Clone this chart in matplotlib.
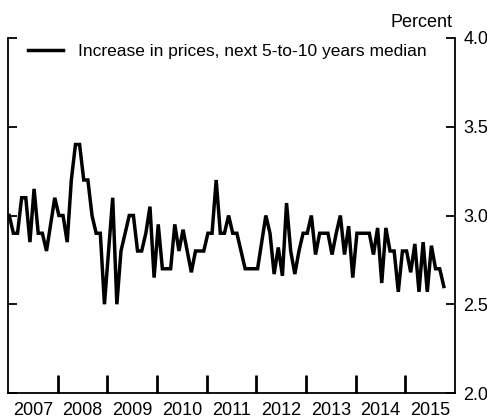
import matplotlib
matplotlib.use("Agg")
import matplotlib.pyplot as plt
import numpy as np

# monthly medians, Jan 2007 .. Oct 2015 (percent)
expect_5_10 = [
    3.0, 2.9, 2.9, 3.1, 3.1, 2.85, 3.15, 2.9, 2.9, 2.8, 2.95, 3.1,   # 2007
    3.0, 3.0, 2.85, 3.2, 3.4, 3.4, 3.2, 3.2, 3.0, 2.9, 2.9, 2.5,     # 2008
    2.8, 3.1, 2.5, 2.8, 2.9, 3.0, 3.0, 2.8, 2.8, 2.9, 3.05, 2.65,    # 2009
    2.95, 2.7, 2.7, 2.7, 2.95, 2.8, 2.92, 2.8, 2.68, 2.8, 2.8, 2.8,  # 2010
    2.9, 2.9, 3.2, 2.9, 2.9, 3.0, 2.9, 2.9, 2.8, 2.7, 2.7, 2.7,      # 2011
    2.7, 2.85, 3.0, 2.9, 2.67, 2.82, 2.66, 3.07, 2.8, 2.67, 2.8, 2.9,  # 2012
    2.9, 3.0, 2.78, 2.9, 2.9, 2.9, 2.78, 2.9, 3.0, 2.78, 2.94, 2.65,   # 2013
    2.9, 2.9, 2.9, 2.9, 2.78, 2.93, 2.62, 2.93, 2.8, 2.8, 2.57, 2.8,   # 2014
    2.8, 2.68, 2.84, 2.57, 2.85, 2.57, 2.83, 2.7, 2.7, 2.6,            # 2015
]
years = ['2007', '2008', '2009', '2010', '2011', '2012', '2013', '2014', '2015']
y_ticks = [2.0, 2.5, 3.0, 3.5, 4.0]
legend_label = 'Increase in prices, next 5-to-10 years median'

plt.rcParams['font.family'] = ['Liberation Sans', 'DejaVu Sans']

fig = plt.figure(figsize=(4.87, 4.2), dpi=100)
ax = fig.add_axes([8 / 487, 1 - 393 / 420, (455 - 8) / 487, (393 - 38) / 420])

months = np.arange(len(expect_5_10)) + 0.3
ax.plot(months, expect_5_10, color='black', lw=2.5, label=legend_label,
        solid_joinstyle='miter')

ax.set_xlim(0, 12 * len(years))
ax.set_ylim(2.0, 4.0)

# year boundary ticks, labels centred in each year
ax.set_xticks(np.arange(12, 12 * len(years), 12))
ax.set_xticklabels([])
ax.set_xticks(np.arange(len(years)) * 12 + 6, minor=True)
ax.set_xticklabels(years, minor=True, fontsize=13)
ax.tick_params(axis='x', which='major', direction='in', length=13, width=2)
ax.tick_params(axis='x', which='minor', length=0, pad=6.5)

ax.set_yticks(y_ticks)
ax.set_yticklabels(['%.1f' % v for v in y_ticks], fontsize=13)
ax.tick_params(axis='y', direction='in', length=6.5, width=1.3,
               left=True, right=True, labelleft=False, labelright=True, pad=6)

ax.spines['top'].set_visible(False)
for s in ['left', 'right', 'bottom']:
    ax.spines[s].set_linewidth(1.3)

ax.legend(loc='upper left', bbox_to_anchor=(28 / 487, 1 - 44 / 420),
          bbox_transform=fig.transFigure, frameon=False, fontsize=12.5,
          handlelength=2.0, handletextpad=0.9, borderpad=0, borderaxespad=0)

fig.text(452 / 487, 1 - 27 / 420, 'Percent', ha='right', va='baseline', fontsize=13)

fig.savefig('out.png', dpi=100)
